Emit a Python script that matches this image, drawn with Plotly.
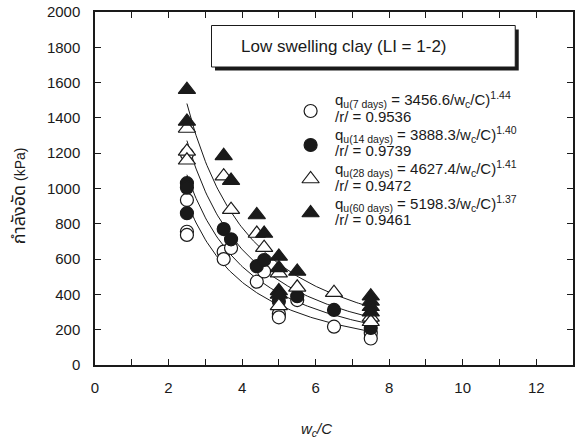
import numpy as np
import plotly.graph_objects as go

# ---------------- data ----------------
wc_7d = [2.5, 2.5, 2.5, 2.5, 3.5, 3.5, 3.7, 4.4, 4.6, 5.0, 5.0, 5.5, 6.5, 7.5, 7.5]
qu_7d = [1195, 935, 755, 737, 642, 600, 663, 472, 530, 290, 270, 368, 217, 180, 150]

wc_14d = [2.5, 2.5, 2.5, 3.5, 3.7, 4.4, 4.6, 5.0, 5.5, 6.5, 7.5, 7.5]
qu_14d = [1030, 1005, 860, 770, 712, 560, 595, 360, 390, 312, 235, 210]

wc_28d = [2.5, 2.5, 2.5, 3.5, 3.7, 4.4, 4.6, 5.0, 5.0, 5.5, 6.5, 7.5, 7.5]
qu_28d = [1340, 1210, 1160, 1070, 880, 745, 665, 520, 335, 440, 410, 270, 245]

wc_60d = [2.5, 2.5, 3.5, 3.7, 4.4, 4.6, 5.0, 5.0, 5.0, 5.0, 5.5, 7.5, 7.5, 7.5, 7.5]
qu_60d = [1560, 1380, 1185, 1045, 850, 745, 615, 550, 420, 400, 530, 390, 360, 330, 300]

ages = ["7 days", "14 days", "28 days", "60 days"]
fit_A = [3456.6, 3888.3, 4627.4, 5198.3]
fit_B = ["1.44", "1.40", "1.41", "1.37"]
fit_r = ["0.9536", "0.9739", "0.9472", "0.9461"]
fit_range = [2.5, 7.5]

x_ticks = [0, 2, 4, 6, 8, 10, 12]
y_ticks = [0, 200, 400, 600, 800, 1000, 1200, 1400, 1600, 1800, 2000]

box_text = "Low swelling clay (LI = 1-2)"
x_title = "<i>w<sub>c</sub>/C</i>"
y_title_th = "กำลังอัด"
y_title_unit = " (kPa)"

# ---------------- layout helpers ----------------
W, H = 575, 440
ML, MR, MT, MB = 95, 0, 12, 75
PW, PH = W - ML - MR, H - MT - MB


def pxx(x):
    return (x - ML) / PW


def pxy(y):
    return (H - MB - y) / PH


FONT = "Liberation Sans, Arial, Helvetica, sans-serif"
INK = "#1a1a1a"

series = [
    (wc_7d, qu_7d, dict(symbol="circle", size=13, color="white", line=dict(color=INK, width=1.2))),
    (wc_14d, qu_14d, dict(symbol="circle", size=13, color=INK, line=dict(color=INK, width=1.2))),
    (wc_28d, qu_28d, dict(symbol="triangle-up", size=15, color="white", line=dict(color=INK, width=1.2))),
    (wc_60d, qu_60d, dict(symbol="triangle-up", size=15, color=INK, line=dict(color=INK, width=1.2))),
]

fig = go.Figure()

# fitted curves q = A / (wc/C)^B
xf = np.linspace(fit_range[0], fit_range[1], 120)
for A, B in zip(fit_A, fit_B):
    fig.add_trace(go.Scatter(x=xf, y=A / xf ** float(B), mode="lines",
                             line=dict(color=INK, width=1), showlegend=False, hoverinfo="skip"))

for xs, ys, mk in series:
    fig.add_trace(go.Scatter(x=xs, y=ys, mode="markers", marker=mk, showlegend=False))

# legend markers on an invisible overlay axis (0..1)
leg_marker_py = [111 + i * 34 for i in range(4)]
for i, (_, _, mk) in enumerate(series):
    fig.add_trace(go.Scatter(x=[pxx(311.5)], y=[pxy(leg_marker_py[i])], mode="markers",
                             marker=mk, xaxis="x2", yaxis="y2", showlegend=False,
                             hoverinfo="skip"))

annotations = []
for i in range(4):
    qy = 99.5 + i * 34.5
    annotations.append(dict(
        text=f"q<sub>u({ages[i]})</sub> = {fit_A[i]}/w<sub>c</sub>/C)<sup>{fit_B[i]}</sup>",
        xref="paper", yref="paper", x=pxx(334), y=pxy(qy), xanchor="left", yanchor="middle",
        showarrow=False, font=dict(family=FONT, size=15, color=INK)))
    annotations.append(dict(
        text=f"/r/ = {fit_r[i]}",
        xref="paper", yref="paper", x=pxx(334), y=pxy(qy + 16.5), xanchor="left", yanchor="middle",
        showarrow=False, font=dict(family=FONT, size=15, color=INK)))

annotations.append(dict(text=box_text, xref="paper", yref="paper", x=pxx(240), y=pxy(46),
                        xanchor="left", yanchor="middle", showarrow=False,
                        font=dict(family=FONT, size=17, color=INK)))
annotations.append(dict(text=x_title, xref="paper", yref="paper", x=pxx(317), y=pxy(429),
                        xanchor="center", yanchor="middle", showarrow=False,
                        font=dict(family=FONT, size=15, color=INK)))
annotations.append(dict(text=f'<span style="font-size:18px">{y_title_th}</span>{y_title_unit}',
                        xref="paper", yref="paper", x=pxx(19), y=pxy(196),
                        xanchor="center", yanchor="middle", showarrow=False, textangle=-90,
                        font=dict(family=FONT + ", Noto Sans Thai, Tahoma", size=14, color=INK)))

shapes = [
    dict(type="rect", xref="paper", yref="paper", x0=pxx(215.5), x1=pxx(520.5),
         y0=pxy(70.5), y1=pxy(29.5), fillcolor=INK, line=dict(width=0)),
    dict(type="rect", xref="paper", yref="paper", x0=pxx(212), x1=pxx(517),
         y0=pxy(67), y1=pxy(25.5), fillcolor="white", line=dict(color=INK, width=1)),
]

axis_common = dict(showgrid=False, zeroline=False, showline=True, linecolor=INK, linewidth=1.5,
                   ticks="inside", ticklen=6, tickwidth=1, tickcolor=INK, mirror="ticks",
                   tickfont=dict(family=FONT, size=15, color=INK))

fig.update_layout(
    width=W, height=H,
    margin=dict(l=ML, r=MR, t=MT, b=MB, pad=0),
    paper_bgcolor="white", plot_bgcolor="white",
    xaxis=dict(range=[0, 13], tickvals=x_ticks, ticklabelstandoff=8,
               minor=dict(dtick=1, ticks="inside", ticklen=6, tickwidth=1, tickcolor=INK, showgrid=False),
               **axis_common),
    yaxis=dict(range=[0, 2000], tickvals=y_ticks, ticklabelstandoff=10, **axis_common),
    xaxis2=dict(overlaying="x", range=[0, 1], visible=False),
    yaxis2=dict(overlaying="y", range=[0, 1], visible=False),
    annotations=annotations,
    shapes=shapes,
    showlegend=False,
)

fig.write_html("out.html")
